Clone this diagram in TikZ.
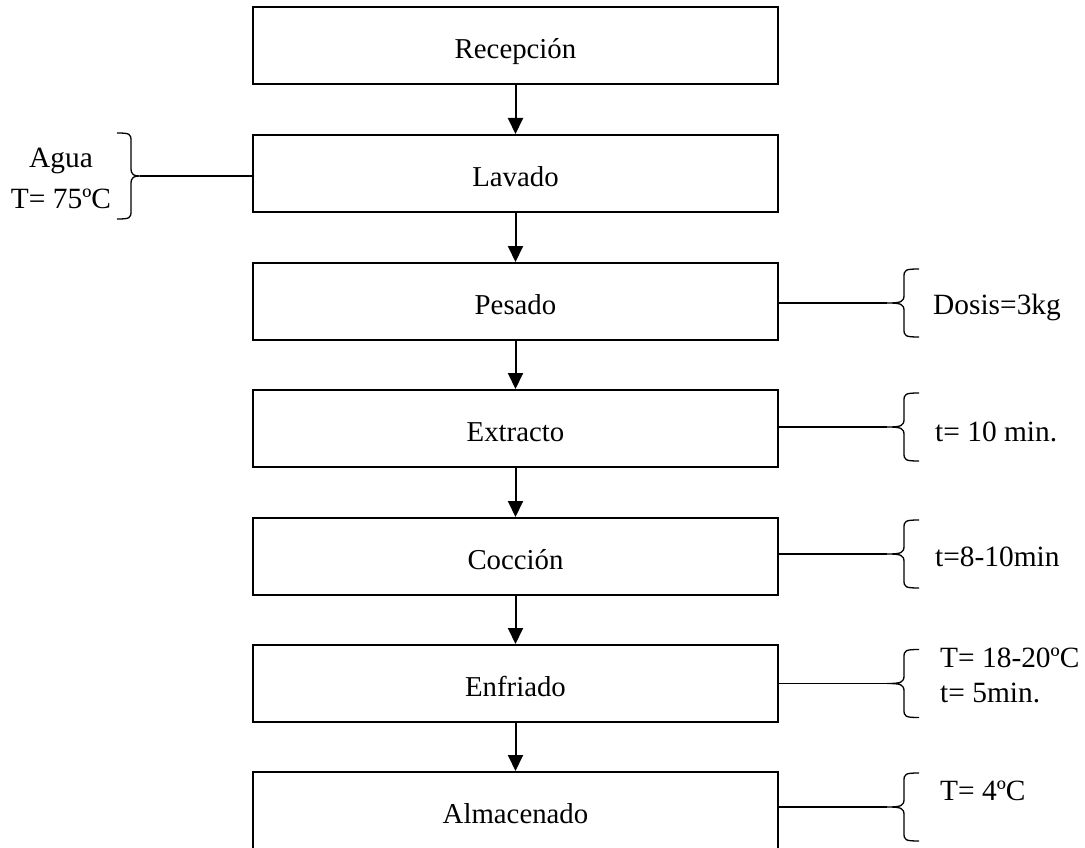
\documentclass[tikz,border=0pt]{standalone}
\usepackage{fontspec}
\setmainfont{Liberation Serif}
\usetikzlibrary{arrows.meta}

\tikzset{
  stepbox/.style={draw, line width=2pt, minimum width=525pt, minimum height=77pt,
    inner sep=0pt, text height=26pt, text depth=0pt,
    font=\fontsize{28.8}{34}\selectfont},
  flow/.style={line width=2pt, -{Triangle[length=16pt,width=15pt]}},
  feed/.style={line width=1.3pt},
  curlyline/.style={line width=1.3pt, line join=round},
  note/.style={inner sep=0pt, font=\fontsize{29.4}{34}\selectfont},
  % opening brace, tip at the pic origin, pointing west
  rbrace/.pic={
    \draw[curlyline] (32,-34) .. controls (18,-34) and (17,-33) .. (17,-26)
      -- (17,-8) .. controls (17,-1) and (14,0) .. (0,0)
      .. controls (14,0) and (17,1) .. (17,8)
      -- (17,26) .. controls (17,33) and (18,34) .. (32,34);
  },
  % closing brace, tip at the pic origin, pointing east
  lbrace/.pic={
    \draw[curlyline] (-23,-43) .. controls (-10,-43) and (-9,-42) .. (-9,-35)
      -- (-9,-8) .. controls (-9,-1) and (-6,0) .. (0,0)
      .. controls (-6,0) and (-9,1) .. (-9,8)
      -- (-9,35) .. controls (-9,42) and (-10,43) .. (-23,43);
  },
}

\begin{document}
\begin{tikzpicture}[x=1pt, y=-1pt]
  \useasboundingbox (0,0) rectangle (1085,848);

  % process steps
  \node[stepbox] (rec) at (515.5,45.5)  {Recepción};
  \node[stepbox] (lav) at (515.5,173.5) {Lavado};
  \node[stepbox] (pes) at (515.5,301.5) {Pesado};
  \node[stepbox] (ext) at (515.5,428.5) {Extracto};
  \node[stepbox] (coc) at (515.5,556.5) {Cocción};
  \node[stepbox] (enf) at (515.5,683.5) {Enfriado};
  \node[stepbox] (alm) at (515.5,810.5) {Almacenado};

  % flow between steps
  \draw[flow] (rec.south) -- (lav.north);
  \draw[flow] (lav.south) -- (pes.north);
  \draw[flow] (pes.south) -- (ext.north);
  \draw[flow] (ext.south) -- (coc.north);
  \draw[flow] (coc.south) -- (enf.north);
  \draw[flow] (enf.south) -- (alm.north);

  % washing water (left)
  \coordinate (lavTip) at (140,176);
  \pic at (lavTip) {lbrace};
  \draw[feed] (lav.west |- lavTip) -- (lavTip);
  \node[note, align=center, font=\fontsize{29.4}{41}\selectfont] (lavNote) at (61,178)
    {Agua\\T= 75ºC};

  % conditions (right)
  \coordinate (pesTip) at (887,303);
  \pic at (pesTip) {rbrace};
  \draw[feed] (pes.east |- pesTip) -- (pesTip);
  \node[note, anchor=base west] (pesNote) at (933,314) {Dosis=3kg};

  \coordinate (extTip) at (887,427);
  \pic at (extTip) {rbrace};
  \draw[feed] (ext.east |- extTip) -- (extTip);
  \node[note, anchor=base west] (extNote) at (935,441) {t= 10 min.};

  \coordinate (cocTip) at (887,554);
  \pic at (cocTip) {rbrace};
  \draw[feed] (coc.east |- cocTip) -- (cocTip);
  \node[note, anchor=base west] (cocNote) at (935,566) {t=8-10min};

  \coordinate (enfTip) at (887,683.5);
  \pic at (enfTip) {rbrace};
  \draw[feed] (enf.east |- enfTip) -- (enfTip);
  \node[note, anchor=west, align=left, font=\fontsize{29.4}{35}\selectfont] (enfNote) at (940,675)
    {T= 18-20ºC\\t= 5min.};

  \coordinate (almTip) at (887,807);
  \pic at (almTip) {rbrace};
  \draw[feed] (alm.east |- almTip) -- (almTip);
  \node[note, anchor=base west] (almNote) at (940,800) {T= 4ºC};
\end{tikzpicture}
\end{document}
